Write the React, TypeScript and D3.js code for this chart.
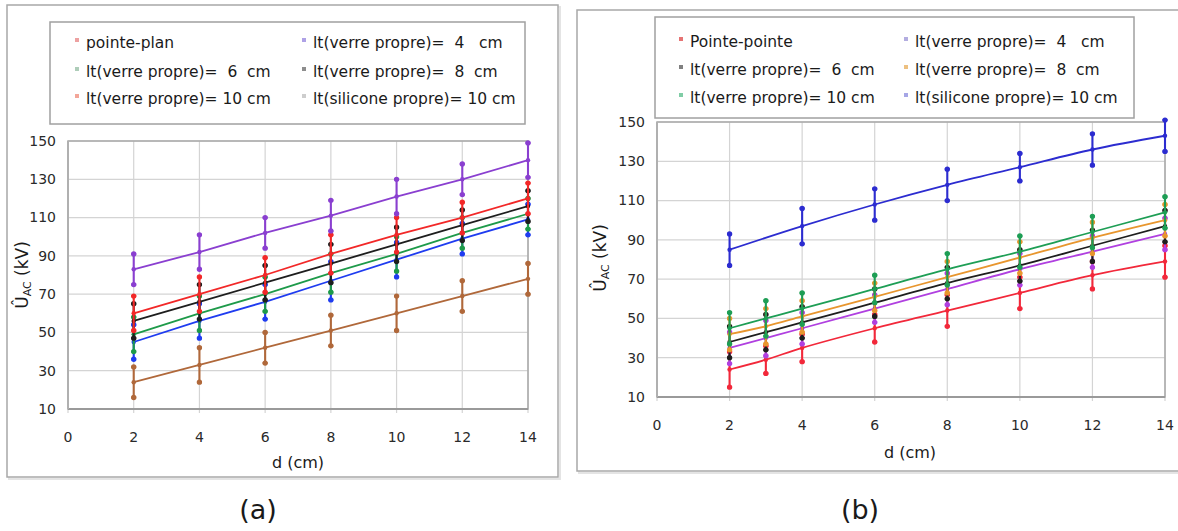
import React from "react";
import * as d3 from "d3";

// panel (a) : pointe-plan, distances d in cm
const dA = [2, 4, 6, 8, 10, 12, 14];
const pointePlanA = [24, 33, 42, 51, 60, 69, 78];
const verre4A = [45, 56, 66, 77, 88, 99, 109];
const verre6A = [49, 60, 70, 81, 91, 102, 112];
const verre8A = [56, 66, 76, 86, 96, 106, 116];
const verre10A = [60, 70, 80, 91, 101, 110, 120];
const siliconeA = [83, 92, 102, 111, 121, 130, 140];
const errPointePlanA = [8, 9, 8, 8, 9, 8, 8];
const errVerreA = [9, 9, 9, 10, 9, 8, 8];
const errSiliconeA = [8, 9, 8, 8, 9, 8, 9];

// panel (b) : pointe-pointe
const dB = [2, 3, 4, 6, 8, 10, 12, 14];
const dBSilicone = [2, 4, 6, 8, 10, 12, 14];
const pointePointeB = [24, 29, 35, 45, 54, 63, 72, 79];
const verre4B = [35, 40, 45, 55, 65, 75, 84, 93];
const verre6B = [38, 43, 48, 58, 68, 77, 87, 97];
const verre8B = [42, 46, 51, 61, 71, 81, 91, 100];
const verre10B = [45, 50, 55, 65, 75, 84, 94, 104];
const siliconeB = [85, 97, 108, 118, 127, 136, 143];
const errPointePointeB = [9, 7, 7, 7, 8, 8, 7, 8];
const errVerreB = [8, 9, 8, 7, 8, 8, 8, 8];
const errSiliconeB = [8, 9, 8, 8, 7, 8, 8];

const legendA = [
  "pointe-plan",
  "lt(verre propre)=  4   cm",
  "lt(verre propre)=  6  cm",
  "lt(verre propre)=  8  cm",
  "lt(verre propre)= 10 cm",
  "lt(silicone propre)= 10 cm",
];
const legendB = [
  "Pointe-pointe",
  "lt(verre propre)=  4   cm",
  "lt(verre propre)=  6  cm",
  "lt(verre propre)=  8  cm",
  "lt(verre propre)= 10 cm",
  "lt(silicone propre)= 10 cm",
];

const xTickValues = [0, 2, 4, 6, 8, 10, 12, 14];
const yTickValues = [10, 30, 50, 70, 90, 110, 130, 150];

const font = "'DejaVu Sans', Verdana, sans-serif";

type Series = {
  label: string;
  x: number[];
  y: number[];
  err: number[];
  color: string;
  key: string;
};

const seriesA: Series[] = [
  { label: legendA[0], x: dA, y: pointePlanA, err: errPointePlanA, color: "#b0683a", key: "#e88a8a" },
  { label: legendA[1], x: dA, y: verre4A, err: errVerreA, color: "#1f3cf0", key: "#9a8ae0" },
  { label: legendA[2], x: dA, y: verre6A, err: errVerreA, color: "#1e9a4a", key: "#9ac0a8" },
  { label: legendA[3], x: dA, y: verre8A, err: errVerreA, color: "#1e1e1e", key: "#707070" },
  { label: legendA[4], x: dA, y: verre10A, err: errVerreA, color: "#f22828", key: "#f09080" },
  { label: legendA[5], x: dA, y: siliconeA, err: errSiliconeA, color: "#8a3fd0", key: "#c0c0c0" },
];

const seriesB: Series[] = [
  { label: legendB[0], x: dB, y: pointePointeB, err: errPointePointeB, color: "#f2283a", key: "#e05050" },
  { label: legendB[1], x: dB, y: verre4B, err: errVerreB, color: "#b040e0", key: "#a098d8" },
  { label: legendB[2], x: dB, y: verre6B, err: errVerreB, color: "#1e1e1e", key: "#606060" },
  { label: legendB[3], x: dB, y: verre8B, err: errVerreB, color: "#e8962e", key: "#e8b060" },
  { label: legendB[4], x: dB, y: verre10B, err: errVerreB, color: "#1e9e55", key: "#60c090" },
  { label: legendB[5], x: dBSilicone, y: siliconeB, err: errSiliconeB, color: "#2c2cd0", key: "#9090e0" },
];

type Layout = {
  frame: { x: number; y: number; w: number; h: number };
  plot: { left: number; right: number; top: number; bottom: number };
  legend: { x: number; y: number; w: number; h: number; cols: number[]; rows: number[] };
  xLabelY: number;
  xTitle: [number, number];
  yTitle: [number, number];
  tag: [number, number];
  tagText: string;
  smooth: boolean;
};

const layoutA: Layout = {
  frame: { x: 7, y: 5, w: 551, h: 472 },
  plot: { left: 68, right: 528, top: 141, bottom: 409 },
  legend: { x: 50, y: 22, w: 475, h: 102, cols: [77, 304], rows: [43, 72, 99] },
  xLabelY: 437,
  xTitle: [298, 462],
  yTitle: [22, 275],
  tag: [258, 510],
  tagText: "(a)",
  smooth: false,
};

const layoutB: Layout = {
  frame: { x: 577, y: 10, w: 640, h: 461 },
  plot: { left: 657, right: 1165, top: 122, bottom: 397 },
  legend: { x: 655, y: 17, w: 479, h: 101, cols: [681, 906], rows: [42, 70, 98] },
  xLabelY: 425,
  xTitle: [910, 452],
  yTitle: [600, 258],
  tag: [860, 510],
  tagText: "(b)",
  smooth: true,
};

function Panel({ L, series }: { L: Layout; series: Series[] }) {
  const x = d3.scaleLinear().domain([0, 14]).range([L.plot.left, L.plot.right]);
  const y = d3.scaleLinear().domain([10, 150]).range([L.plot.bottom, L.plot.top]);
  const line = d3
    .line<[number, number]>()
    .x((d) => x(d[0]))
    .y((d) => y(d[1]))
    .curve(L.smooth ? d3.curveCatmullRom.alpha(0.5) : d3.curveLinear);

  return (
    <g fontFamily={font}>
      {/* outer frame with a soft shadow */}
      <rect x={L.frame.x + 2} y={L.frame.y + 2} width={L.frame.w} height={L.frame.h} fill="none" stroke="#e4e4e4" strokeWidth={2} />
      <rect x={L.frame.x} y={L.frame.y} width={L.frame.w} height={L.frame.h} fill="#fff" stroke="#a8a8a8" strokeWidth={1.5} />

      {/* grid */}
      {yTickValues.map((v) => (
        <line key={"gy" + v} x1={L.plot.left} x2={L.plot.right} y1={y(v)} y2={y(v)} stroke="#d4d4d4" strokeWidth={1.2} />
      ))}
      {xTickValues.map((v) => (
        <line key={"gx" + v} x1={x(v)} x2={x(v)} y1={L.plot.top} y2={L.plot.bottom + 4} stroke="#d4d4d4" strokeWidth={1.2} />
      ))}
      <rect x={L.plot.left} y={L.plot.top} width={L.plot.right - L.plot.left} height={L.plot.bottom - L.plot.top} fill="none" stroke="#a8a8a8" strokeWidth={1.5} />
      <line x1={L.plot.left} x2={L.plot.right} y1={L.plot.bottom} y2={L.plot.bottom} stroke="#9a9a9a" strokeWidth={2.2} />
      <line x1={L.plot.left} x2={L.plot.left} y1={L.plot.top} y2={L.plot.bottom} stroke="#b0b0b0" strokeWidth={2} />

      {/* tick labels */}
      {yTickValues.map((v) => (
        <text key={"ty" + v} x={L.plot.left - 12} y={y(v)} dy="0.35em" textAnchor="end" fontSize={14} fill="#2a2a2a">
          {v}
        </text>
      ))}
      {xTickValues.map((v) => (
        <text key={"tx" + v} x={x(v)} y={L.xLabelY} dy="0.35em" textAnchor="middle" fontSize={14} fill="#2a2a2a">
          {v}
        </text>
      ))}

      {/* axis titles */}
      <text x={L.xTitle[0]} y={L.xTitle[1]} dy="0.35em" textAnchor="middle" fontSize={16} fill="#1a1a1a">
        d (cm)
      </text>
      <text transform={`translate(${L.yTitle[0]},${L.yTitle[1]}) rotate(-90)`} dy="0.35em" textAnchor="middle" fontSize={17} fill="#1a1a1a">
        Û<tspan fontSize={11} dy="3">AC</tspan>
        <tspan dy="-3"> (kV)</tspan>
      </text>

      {/* series */}
      {series.map((s, i) => {
        const pts = s.x.map((d, j) => [d, s.y[j]] as [number, number]);
        return (
          <g key={"s" + i} stroke={s.color}>
            {pts.map((p, j) => {
              const cx = x(p[0]);
              const y1 = y(p[1] + s.err[j]);
              const y2 = y(p[1] - s.err[j]);
              return (
                <g key={j} strokeWidth={2.1}>
                  <line x1={cx} x2={cx} y1={y1} y2={y2} />
                  <line x1={cx - 2.5} x2={cx + 2.5} y1={y1} y2={y1} />
                  <line x1={cx - 2.5} x2={cx + 2.5} y1={y2} y2={y2} />
                  <circle cx={cx} cy={y1} r={1.6} fill={s.color} />
                  <circle cx={cx} cy={y2} r={1.6} fill={s.color} />
                </g>
              );
            })}
            <path d={line(pts) || ""} fill="none" strokeWidth={1.8} />
            {pts.map((p, j) => (
              <circle key={"m" + j} cx={x(p[0])} cy={y(p[1])} r={2.2} fill={s.color} stroke="none" />
            ))}
          </g>
        );
      })}

      {/* legend */}
      <rect x={L.legend.x} y={L.legend.y} width={L.legend.w} height={L.legend.h} fill="#fff" stroke="#a0a0a0" strokeWidth={1.5} />
      {series.map((s, i) => {
        const cx = L.legend.cols[i % 2];
        const cy = L.legend.rows[Math.floor(i / 2)];
        return (
          <g key={"l" + i}>
            <rect x={cx - 2} y={cy - 5} width={4} height={4} fill={s.key} opacity={0.8} />
            <text x={cx + 9} y={cy} dy="0.35em" fontSize={15.5} fill="#1a1a1a" xmlSpace="preserve" style={{ whiteSpace: "pre" }}>
              {s.label}
            </text>
          </g>
        );
      })}

      {/* panel tag */}
      <text x={L.tag[0]} y={L.tag[1]} dy="0.35em" textAnchor="middle" fontSize={27} fill="#1a1a1a">
        {L.tagText}
      </text>
    </g>
  );
}

export default function App() {
  return (
    <svg width={1178} height={531} style={{ position: "absolute", left: 0, top: 0, background: "#fff" }}>
      <rect width={1178} height={531} fill="#fff" />
      <Panel L={layoutA} series={seriesA} />
      <Panel L={layoutB} series={seriesB} />
    </svg>
  );
}
